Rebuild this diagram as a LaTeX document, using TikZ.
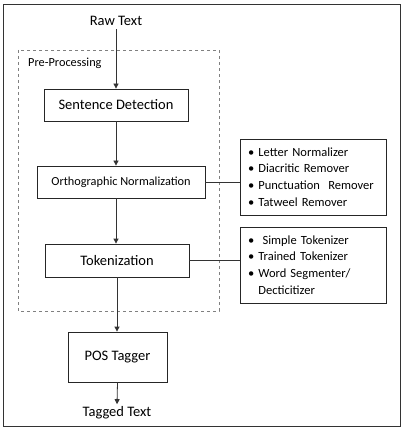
\documentclass[tikz,border=0pt]{standalone}
\usepackage{fontspec}
\setmainfont{Carlito}
\usetikzlibrary{arrows.meta}
\begin{document}
\begin{tikzpicture}[x=1pt,y=-1pt,
  box/.style={draw=black!85,line width=0.8pt,minimum width=#1,inner sep=0pt},
  arr/.style={draw=black!80,line width=0.8pt,-{Triangle[length=5pt,width=5pt]}},
  conn/.style={draw=black!80,line width=0.8pt},
  main/.style={font=\fontsize{14.5}{16}\selectfont},
  small/.style={font=\fontsize{12.3}{14}\selectfont},
  lst/.style={draw=black!85,line width=0.8pt,minimum width=146pt,minimum height=76pt,inner sep=0pt,
    text width=130pt,font=\fontsize{12.5}{16.7}\selectfont,align=left}]
\useasboundingbox (0,0) rectangle (403,427);
% outer frame
\draw[line width=0.9pt,black!80] (3,4) rectangle (400,426);
% dashed pre-processing box
\draw[dashed,black!50,line width=0.8pt] (18,50) rectangle (219,311);
\node[small,anchor=west,inner sep=0pt] (pre) at (28,63) {Pre-Processing};

\node[main] (raw) at (116,21) {Raw Text};
\node[main,box=144pt,minimum height=32pt] (sent) at (116,105) {Sentence Detection};
\node[small,box=168pt,minimum height=32pt] (orth) at (121,182) {Orthographic Normalization};
\node[main,box=144pt,minimum height=33pt] (tok) at (117,260.5) {Tokenization};
\node[main,box=99pt,minimum height=50pt] (pos) at (117.5,357) {POS Tagger};
\node[main] (tag) at (117,413) {Tagged Text};

\node[lst] (l1) at (313,177) {%
\textbullet\ Letter Normalizer\\
\textbullet\ Diacritic Remover\\
\textbullet\ Punctuation\ \ Remover\\
\textbullet\ Tatweel Remover};
\node[lst] (l2) at (313,265) {%
\textbullet\ \ Simple Tokenizer\\
\textbullet\ Trained Tokenizer\\
\textbullet\ Word Segmenter/\\
\phantom{\textbullet\ }Decticitizer};

\draw[arr] (raw.south -| sent.north) -- (sent.north);
\draw[arr] (sent.south) -- (sent.south |- orth.north);
\draw[arr] (sent.south |- orth.south) -- (sent.south |- tok.north);
\draw[arr] (tok.south) -- (tok.south |- pos.north);
\draw[arr] (pos.south) -- ([yshift=-1pt]tag.north);
\draw[conn] (orth.east) -- (orth.east -| l1.west);
\draw[conn] (tok.east) -- (tok.east -| l2.west);
\end{tikzpicture}
\end{document}
